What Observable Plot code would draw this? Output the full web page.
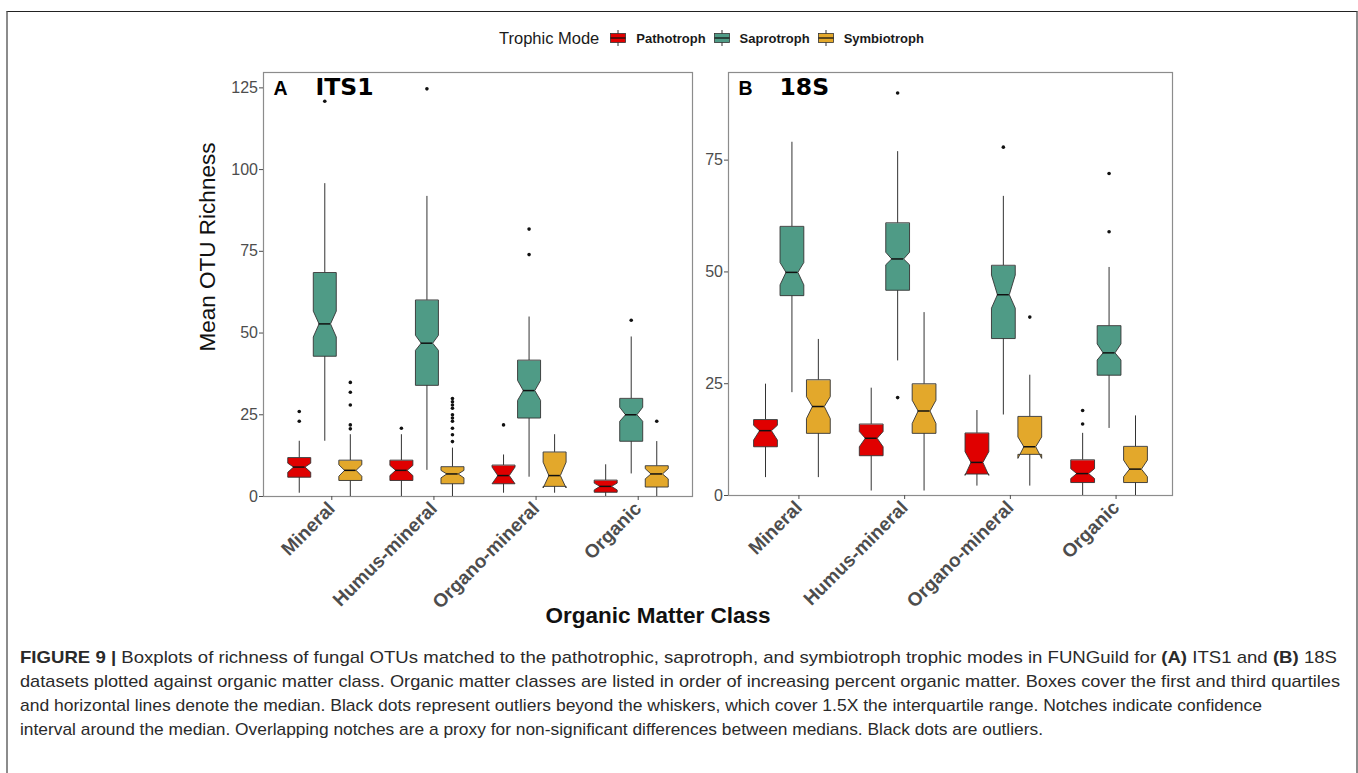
<!DOCTYPE html>
<html>
<head>
<meta charset="utf-8">
<script src="https://cdn.jsdelivr.net/npm/d3@7"></script>
<script src="https://cdn.jsdelivr.net/npm/@observablehq/plot@0.6"></script>
<style>
  body { margin: 0; background: #fff; font-family: "Liberation Sans", Arial, sans-serif; }
  #page { position: relative; width: 1358px; height: 773px; overflow: hidden; background: #fff; }
  #border { position: absolute; left: 6px; top: 11px; width: 1352px; height: 780px; box-sizing: border-box;
            border-top: 1px solid #222; border-left: 2px solid #8c8c8c; border-right: 2px solid #8c8c8c; }
  .panel { position: absolute; top: 0; }
  .panel svg { overflow: visible; }
  #legend { position: absolute; left: 499px; top: 29px; height: 18px; display: flex; align-items: center; white-space: nowrap; }
  #legend .title { font-size: 16.5px; color: #1a1a1a; margin-right: 11px; }
  #legend .lab { font-size: 13px; font-weight: bold; color: #1a1a1a; margin-left: 10px; margin-right: 8px; }
  #ytitle { position: absolute; left: 208px; top: 247px; transform: translate(-50%, -50%) rotate(-90deg);
            font-size: 22.5px; color: #111; white-space: nowrap; }
  #xtitle { position: absolute; left: 658px; top: 616px; transform: translate(-50%, -50%);
            font-size: 22.5px; font-weight: bold; color: #111; white-space: nowrap; }
  #caption { position: absolute; left: 0; top: 0; }
</style>
</head>
<body>
<div id="page">
  <div id="border"></div>
  <div id="legend"></div>
  <div id="ytitle">Mean OTU Richness</div>
  <div id="xtitle">Organic Matter Class</div>
  <div id="panelA" class="panel" style="left:0px"></div>
  <div id="panelB" class="panel" style="left:700px"></div>
  <svg id="caption" width="1358" height="773"></svg>
</div>
<script>
// ---------------- data ----------------
const categories = ["Mineral", "Humus-mineral", "Organo-mineral", "Organic"];
const modes = ["Pathotroph", "Saprotroph", "Symbiotroph"];
const modeColors = ["#e00000", "#4f9b86", "#e3a82b"];
const legendTitle = "Trophic Mode";

// each box: [whisker low, Q1, notch low, median, notch high, Q3, whisker high]
const its1Pathotroph = [[1, 5.9, 7.4, 9, 10.2, 11.8, 16.9], [0, 4.9, 6.4, 8, 9.5, 11, 18.9], [1, 3.9, 3.9, 6.4, 9, 9.5, 12.7], [0, 1.3, 2, 3.1, 4.1, 4.9, 9.7]];
const its1Saprotroph = [[16.9, 42.9, 48.8, 52.8, 56.7, 68.4, 95.7], [8, 34, 44.7, 46.9, 49.3, 60, 91.8], [5.9, 24, 29.4, 32.4, 35.5, 41.6, 54.9], [6.9, 16.9, 23, 25, 27.3, 29.9, 48.8]];
const its1Symbiotroph = [[0, 4.9, 6.2, 8, 9.7, 11, 18.9], [0, 3.9, 5.7, 6.9, 8, 9, 14.8], [1, 3.1, 2.6, 6.4, 10.5, 13.5, 18.9], [0, 2.9, 5.4, 6.9, 8.5, 9.3, 16.8]];
// outliers per category
const its1PathotrophOut = [[23, 26], [20.9], [21.9], []];
const its1SaprotrophOut = [[120.9], [124.7], [74, 81.8], [53.9]];
const its1SymbiotrophOut = [[20.7, 21.9, 28, 31.9, 34.9], [16.8, 18.9, 20.9, 23, 24, 25, 27, 28, 29, 30], [], [23]];

const s18Pathotroph = [[4, 10.9, 12.4, 14.5, 15.7, 16.9, 24.9], [1, 8.9, 10.9, 12.8, 14.3, 15.9, 24], [2.1, 4.8, 4.5, 7.4, 9.8, 13.9, 19], [0, 2.9, 3.8, 4.9, 6, 7.9, 13.9]];
const s18Saprotroph = [[23, 44.7, 47.1, 49.9, 52.1, 60.1, 79], [30.1, 45.9, 51.6, 52.9, 54.4, 60.9, 76.9], [18, 35.1, 41.9, 44.9, 49.3, 51.4, 66.9], [15, 26.9, 30.3, 31.9, 33.9, 37.9, 51]];
const s18Symbiotroph = [[4, 13.9, 17.2, 19.9, 22.1, 25.8, 34.9], [1, 13.9, 16.1, 18.9, 21.3, 24.9, 40.9], [2.1, 9.2, 8.3, 10.9, 13.1, 17.6, 26.9], [0, 2.9, 4.2, 5.9, 7.9, 10.9, 17.8]];
const s18PathotrophOut = [[], [], [], [16, 19]];
const s18SaprotrophOut = [[], [21.9, 90], [77.9], [59, 72]];
const s18SymbiotrophOut = [[], [], [39.9], []];

const its1Ticks = [0, 25, 50, 75, 100, 125];
const s18Ticks = [0, 25, 50, 75];
const panelTags = ["A", "B"];
const panelTitles = ["ITS1", "18S"];

// ---------------- layout helpers ----------------
const dodge = [-0.25, 0, 0.25];
const hw = 0.1125;

function makePanel({series, outliers, yMax, yTicks, tag, title, width, marginLeft, marginBottom}) {
  const rows = [];
  series.forEach((arr, m) => arr.forEach((s, c) => rows.push({
    id: m * 10 + c, m, x: c + dodge[m],
    lo: s[0], q1: s[1], nlo: s[2], med: s[3], nhi: s[4], q3: s[5], hi: s[6]
  })));
  const poly = rows.flatMap(r => [
    [r.x - hw, r.q3], [r.x - hw, r.nhi], [r.x - hw / 2, r.med], [r.x - hw, r.nlo], [r.x - hw, r.q1],
    [r.x + hw, r.q1], [r.x + hw, r.nlo], [r.x + hw / 2, r.med], [r.x + hw, r.nhi], [r.x + hw, r.q3]
  ].map(([px, py]) => ({id: r.id, m: r.m, px, py})));
  const pts = [];
  outliers.forEach((arr, m) => arr.forEach((vals, c) => vals.forEach(v => pts.push({x: c + dodge[m], y: v}))));

  return Plot.plot({
    width, height: 640,
    marginLeft, marginRight: 8, marginTop: 72, marginBottom,
    style: {fontFamily: "'Liberation Sans', Arial, sans-serif", background: "transparent", overflow: "visible"},
    x: {domain: [-0.6, 3.6]},
    y: {domain: [0, yMax]},
    marks: [
      Plot.frame({stroke: "#8c8c8c", strokeWidth: 1.2}),
      Plot.axisY({ticks: yTicks, tickSize: 4, tickPadding: 1.5, fontSize: 16, color: "#4d4d4d", label: null}),
      Plot.axisX({ticks: [0, 1, 2, 3], tickFormat: i => categories[i], tickRotate: -45, tickSize: 4, tickPadding: 5, dx: 7,
                  fontSize: 19, fontWeight: "bold", color: "#4d4d4d", label: null}),
      Plot.ruleX(rows, {x: "x", y1: "q3", y2: "hi", stroke: "#333", strokeWidth: 1}),
      Plot.ruleX(rows, {x: "x", y1: "lo", y2: "q1", stroke: "#333", strokeWidth: 1}),
      ...modes.map((mode, m) => Plot.line(poly.filter(p => p.m === m), {
        x: "px", y: "py", z: "id", fill: modeColors[m], stroke: "#333", strokeWidth: 0.9, curve: "linear-closed"
      })),
      Plot.ruleY(rows, {y: "med", x1: d => d.x - hw / 2, x2: d => d.x + hw / 2, stroke: "#111", strokeWidth: 1.5}),
      Plot.dot(pts, {x: "x", y: "y", r: 1.8, fill: "#111", stroke: null}),
      Plot.text([tag], {frameAnchor: "top-left", lineAnchor: "top", textAnchor: "start", dx: 10, dy: 8.5,
                        fontSize: 19.5, fontWeight: "bold", fill: "#000"}),
      Plot.text([title], {frameAnchor: "top-left", lineAnchor: "top", textAnchor: "start", dx: tag === "A" ? 52 : 51, dy: 5.5,
                          fontSize: 23.5, fontWeight: "bold", fill: "#000", fontFamily: "'DejaVu Sans', sans-serif"})
    ]
  });
}

document.getElementById("panelA").append(makePanel({
  series: [its1Pathotroph, its1Saprotroph, its1Symbiotroph],
  outliers: [its1PathotrophOut, its1SaprotrophOut, its1SymbiotrophOut],
  yMax: 129.7, yTicks: its1Ticks, tag: panelTags[0], title: panelTitles[0],
  width: 700, marginLeft: 263, marginBottom: 144
}));
document.getElementById("panelB").append(makePanel({
  series: [s18Pathotroph, s18Saprotroph, s18Symbiotroph],
  outliers: [s18PathotrophOut, s18SaprotrophOut, s18SymbiotrophOut],
  yMax: 94.6, yTicks: s18Ticks, tag: panelTags[1], title: panelTitles[1],
  width: 480, marginLeft: 28, marginBottom: 145
}));

// ---------------- legend ----------------
const legend = document.getElementById("legend");
const lt = document.createElement("span");
lt.className = "title"; lt.textContent = legendTitle; legend.append(lt);
modes.forEach((mode, m) => {
  const ns = "http://www.w3.org/2000/svg";
  const svg = document.createElementNS(ns, "svg");
  svg.setAttribute("width", 16); svg.setAttribute("height", 16);
  svg.innerHTML = `<line x1="8" x2="8" y1="0" y2="16" stroke="#333" stroke-width="1"/>
    <rect x="0.5" y="3.5" width="15" height="9" fill="${modeColors[m]}" stroke="#333" stroke-width="0.8"/>
    <line x1="0.5" x2="15.5" y1="8" y2="8" stroke="#111" stroke-width="1.3"/>`;
  legend.append(svg);
  const lab = document.createElement("span");
  lab.className = "lab"; lab.textContent = mode; legend.append(lab);
});

// ---------------- caption ----------------
const captionLines = [
  {len: 1317, parts: [["FIGURE 9 |", true], [" Boxplots of richness of fungal OTUs matched to the pathotrophic, saprotroph, and symbiotroph trophic modes in FUNGuild for ", false], ["(A)", true], [" ITS1 and ", false], ["(B)", true], [" 18S", false]]},
  {len: 1320, parts: [["datasets plotted against organic matter class. Organic matter classes are listed in order of increasing percent organic matter. Boxes cover the first and third quartiles", false]]},
  {len: 1242, parts: [["and horizontal lines denote the median. Black dots represent outliers beyond the whiskers, which cover 1.5X the interquartile range. Notches indicate confidence", false]]},
  {len: 1023, parts: [["interval around the median. Overlapping notches are a proxy for non-significant differences between medians. Black dots are outliers.", false]]}
];
const cap = d3.select("#caption");
captionLines.forEach((line, i) => {
  const t = cap.append("text")
    .attr("x", 20).attr("y", 663 + i * 24)
    .attr("textLength", line.len).attr("lengthAdjust", "spacingAndGlyphs")
    .attr("font-family", "'Liberation Sans Narrow', 'Liberation Sans', Arial, sans-serif")
    .attr("font-size", 17).attr("fill", "#2a2a2a");
  line.parts.forEach(([txt, bold]) => {
    t.append("tspan").attr("font-weight", bold ? "bold" : null).text(txt);
  });
});
</script>
</body>
</html>
